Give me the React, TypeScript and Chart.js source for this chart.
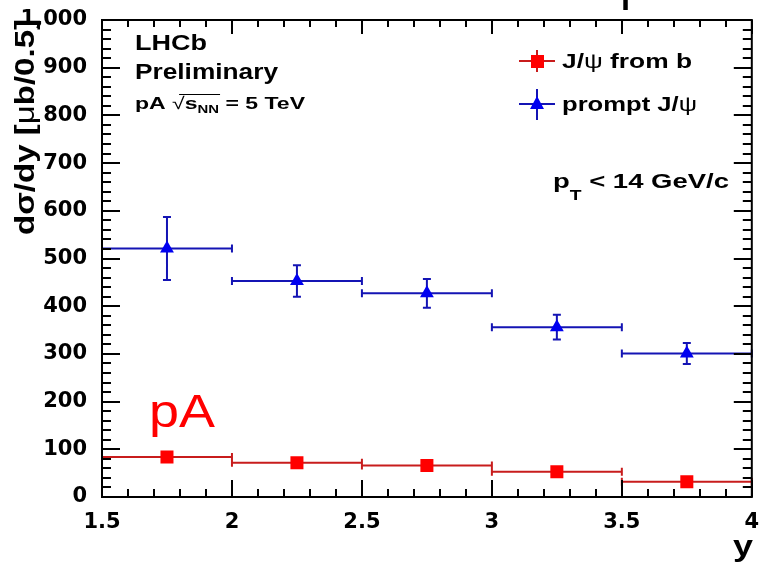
import { useEffect, useRef } from "react";
import { Chart, registerables } from "chart.js";

Chart.register(...registerables);

// Rapidity bins (edges and centres)
const binLow = [1.5, 2.0, 2.5, 3.0, 3.5];
const binHigh = [2.0, 2.5, 3.0, 3.5, 4.0];
const binCentre = [1.75, 2.25, 2.75, 3.25, 3.75];

// dσ/dy [μb/0.5] for prompt J/ψ
const promptValues = [521, 453, 427, 356, 301];
const promptErrors = [66, 33, 30, 26, 22];

// dσ/dy [μb/0.5] for J/ψ from b
const fromBValues = [84, 72, 66, 53, 32];
const fromBErrors = [5, 5, 4, 4, 3];

// Axis ranges and tick steps
const xRange = [1.5, 4];
const yRange = [0, 1000];
const xStep = 0.5;
const yStep = 100;

const SANS = '"Liberation Sans", Arial, sans-serif';
const TICK_FONT = '"DejaVu Sans", sans-serif';

const RED_LINE = "#c81c1c";
const RED_MARK = "#ff0000";
const BLUE_LINE = "#1414b4";
const BLUE_MARK = "#0000f0";

type Part = { t: string; font: string; dy?: number };

// Draws a run of text pieces, optionally stretched to a given total width.
function drawRun(
  ctx: CanvasRenderingContext2D,
  parts: Part[],
  x: number,
  y: number,
  color: string,
  width?: number,
  align: "left" | "right" = "left"
): number[] {
  ctx.save();
  ctx.fillStyle = color;
  ctx.textBaseline = "alphabetic";
  ctx.textAlign = "left";
  let total = 0;
  const ws = parts.map((p) => {
    ctx.font = p.font;
    const w = ctx.measureText(p.t).width;
    total += w;
    return w;
  });
  const sx = width ? width / total : 1;
  const x0 = align === "right" ? x - total * sx : x;
  ctx.translate(x0, y);
  ctx.scale(sx, 1);
  let cx = 0;
  const stops: number[] = [];
  parts.forEach((p, i) => {
    ctx.font = p.font;
    stops.push(x0 + cx * sx);
    ctx.fillText(p.t, cx, p.dy ?? 0);
    cx += ws[i];
  });
  stops.push(x0 + cx * sx);
  ctx.restore();
  return stops;
}

function seg(ctx: CanvasRenderingContext2D, x1: number, y1: number, x2: number, y2: number) {
  ctx.moveTo(x1, y1);
  ctx.lineTo(x2, y2);
}

const errorBars = {
  id: "errorBars",
  beforeDatasetsDraw(chart: any) {
    const { ctx } = chart;
    const x = chart.scales.x;
    const y = chart.scales.y;
    const cap = 4;
    chart.data.datasets.forEach((ds: any) => {
      ctx.save();
      ctx.strokeStyle = ds.barColor;
      ctx.lineWidth = 2;
      ctx.beginPath();
      ds.data.forEach((p: any) => {
        const px = x.getPixelForValue(p.x);
        const py = y.getPixelForValue(p.y);
        const xl = x.getPixelForValue(p.xLow);
        const xh = x.getPixelForValue(p.xHigh);
        const yt = y.getPixelForValue(p.y + p.yErr);
        const yb = y.getPixelForValue(p.y - p.yErr);
        seg(ctx, xl, py, xh, py);
        seg(ctx, xl, py - cap, xl, py + cap);
        seg(ctx, xh, py - cap, xh, py + cap);
        seg(ctx, px, yt, px, yb);
        seg(ctx, px - cap, yt, px + cap, yt);
        seg(ctx, px - cap, yb, px + cap, yb);
      });
      ctx.stroke();
      ctx.restore();
    });
  },
};

const frameAndText = {
  id: "frameAndText",
  afterDraw(chart: any) {
    const { ctx, chartArea: a } = chart;
    const x = chart.scales.x;
    const y = chart.scales.y;

    // inward ticks on all four sides
    ctx.save();
    ctx.strokeStyle = "#000";
    ctx.lineWidth = 2;
    ctx.beginPath();
    for (let k = 0; k <= 50; k++) {
      const py = Math.round(y.getPixelForValue(k * 20));
      const len = k % 5 === 0 ? 18 : 9;
      seg(ctx, a.left, py, a.left + len, py);
      seg(ctx, a.right, py, a.right - len, py);
    }
    for (let k = 0; k <= 25; k++) {
      const px = Math.round(x.getPixelForValue(xRange[0] + k * 0.1));
      const lenB = k % 5 === 0 ? 17 : 8;
      const lenT = k % 5 === 0 ? 14 : 7;
      seg(ctx, px, a.bottom, px, a.bottom - lenB);
      seg(ctx, px, a.top, px, a.top + lenT);
    }
    ctx.stroke();
    ctx.strokeRect(a.left, a.top, a.right - a.left, a.bottom - a.top);
    ctx.restore();

    const B = (s: number) => `bold ${s}px ${SANS}`;
    const N = (s: number) => `${s}px ${SANS}`;

    // title cut off by the top edge: only the descender of its "p" remains
    drawRun(ctx, [{ t: "p", font: B(56) }], 621, -2, "#000", 20);

    // experiment labels
    drawRun(ctx, [{ t: "LHCb", font: B(22) }], 135, 50, "#000", 72);
    drawRun(ctx, [{ t: "Preliminary", font: B(22) }], 135, 79, "#000", 143);
    const st = drawRun(
      ctx,
      [
        { t: "pA ", font: B(17) },
        { t: "√", font: N(17) },
        { t: "s", font: B(17) },
        { t: "NN", font: B(11), dy: 4 },
        { t: " = 5 TeV", font: B(17) },
      ],
      135,
      109,
      "#000",
      170
    );
    ctx.save();
    ctx.strokeStyle = "#000";
    ctx.lineWidth = 1.2;
    ctx.beginPath();
    seg(ctx, st[1] + 7, 94.5, st[4] + 1, 94.5);
    ctx.stroke();
    ctx.restore();

    // legend
    ctx.save();
    ctx.lineWidth = 2;
    ctx.strokeStyle = RED_LINE;
    ctx.beginPath();
    seg(ctx, 519, 61, 555, 61);
    seg(ctx, 537, 50, 537, 72);
    ctx.stroke();
    ctx.fillStyle = RED_MARK;
    ctx.fillRect(531, 55, 13, 13);
    ctx.strokeStyle = BLUE_LINE;
    ctx.beginPath();
    seg(ctx, 519, 104, 555, 104);
    seg(ctx, 537, 89, 537, 120);
    ctx.stroke();
    ctx.fillStyle = BLUE_MARK;
    ctx.beginPath();
    ctx.moveTo(537, 96);
    ctx.lineTo(544, 109);
    ctx.lineTo(530, 109);
    ctx.closePath();
    ctx.fill();
    ctx.restore();
    drawRun(
      ctx,
      [
        { t: "J/", font: B(20) },
        { t: "ψ", font: N(20) },
        { t: " from b", font: B(20) },
      ],
      562,
      68,
      "#000",
      130
    );
    drawRun(
      ctx,
      [
        { t: "prompt J/", font: B(20) },
        { t: "ψ", font: N(20) },
      ],
      562,
      111,
      "#000",
      135
    );

    // kinematic range
    drawRun(
      ctx,
      [
        { t: "p", font: B(20) },
        { t: "T", font: B(14), dy: 12 },
        { t: " < 14 GeV/c", font: B(20) },
      ],
      553,
      188,
      "#000",
      176
    );

    // collision system tag
    drawRun(ctx, [{ t: "pA", font: N(46) }], 149, 427, "#ff0000", 66);

    // axis titles
    drawRun(ctx, [{ t: "y", font: B(30) }], 753, 556, "#000", 20, "right");
    ctx.save();
    ctx.translate(34, 19);
    ctx.rotate(-Math.PI / 2);
    drawRun(
      ctx,
      [
        { t: "dσ/dy [", font: B(28) },
        { t: "μ", font: N(28) },
        { t: "b/0.5]", font: B(28) },
      ],
      0,
      0,
      "#000",
      216,
      "right"
    );
    ctx.restore();
  },
};

export default function App() {
  const ref = useRef<HTMLCanvasElement | null>(null);

  useEffect(() => {
    if (!ref.current) return;
    const mk = (vals: number[], errs: number[]) =>
      vals.map((v, i) => ({
        x: binCentre[i],
        y: v,
        xLow: binLow[i],
        xHigh: binHigh[i],
        yErr: errs[i],
      }));

    const chart = new Chart(ref.current, {
      type: "scatter",
      data: {
        datasets: [
          {
            label: "J/ψ from b",
            data: mk(fromBValues, fromBErrors),
            pointStyle: "rect",
            pointRadius: 9.2,
            backgroundColor: RED_MARK,
            borderColor: RED_MARK,
            borderWidth: 0,
            barColor: RED_LINE,
          } as any,
          {
            label: "prompt J/ψ",
            data: mk(promptValues, promptErrors),
            pointStyle: "triangle",
            pointRadius: 8,
            backgroundColor: BLUE_MARK,
            borderColor: BLUE_MARK,
            borderWidth: 0,
            barColor: BLUE_LINE,
          } as any,
        ],
      },
      options: {
        animation: false,
        responsive: false,
        devicePixelRatio: 1,
        events: [],
        layout: { padding: { left: 0, right: 7, top: 20, bottom: 0 } },
        plugins: {
          legend: { display: false },
          tooltip: { enabled: false },
        },
        scales: {
          x: {
            type: "linear",
            min: xRange[0],
            max: xRange[1],
            grid: { display: false },
            border: { display: false },
            afterFit: (s: any) => {
              s.height = 70;
              s.paddingLeft = 0;
              s.paddingRight = 0;
            },
            ticks: {
              stepSize: xStep,
              color: "#000",
              padding: 5,
              maxRotation: 0,
              font: { family: TICK_FONT, size: 21, weight: "bold" },
              callback: (v: any) => String(v),
            },
          },
          y: {
            type: "linear",
            min: yRange[0],
            max: yRange[1],
            grid: { display: false },
            border: { display: false },
            afterFit: (s: any) => {
              s.width = 102;
              s.paddingTop = 0;
              s.paddingBottom = 0;
            },
            ticks: {
              stepSize: yStep,
              color: "#000",
              padding: 7,
              font: { family: TICK_FONT, size: 21, weight: "bold" },
            },
          },
        },
      },
      plugins: [errorBars, frameAndText],
    });
    return () => chart.destroy();
  }, []);

  return (
    <div style={{ position: "absolute", left: 0, top: 0, width: 761, height: 567, background: "#fff" }}>
      <canvas ref={ref} width={761} height={567} style={{ width: 761, height: 567, display: "block" }} />
    </div>
  );
}
